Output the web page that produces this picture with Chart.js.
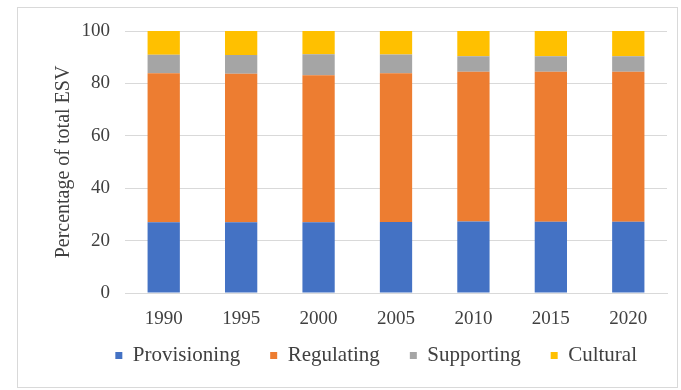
<!DOCTYPE html>
<html>
<head>
<meta charset="utf-8">
<script src="https://cdn.jsdelivr.net/npm/chart.js@4"></script>
<style>
  html, body { margin: 0; padding: 0; background: #ffffff; }
  #wrap { position: relative; width: 681px; height: 390px; }
</style>
</head>
<body>
<div id="wrap"><canvas id="c" width="681" height="390"></canvas></div>
<script>
// Years on the x axis
const years = ['1990', '1995', '2000', '2005', '2010', '2015', '2020'];

// Share of total ecosystem service value (%) by service type
const provisioning = [27.0, 27.0, 27.0, 27.1, 27.3, 27.2, 27.2];
const regulating   = [56.9, 56.7, 56.1, 56.8, 57.1, 57.2, 57.2];
const supporting   = [7.0, 7.1, 8.0, 7.1, 6.0, 6.0, 6.0];
const cultural     = [9.1, 9.2, 8.9, 9.0, 9.6, 9.6, 9.6];

const yTicks = [0, 20, 40, 60, 80, 100];

const seriesNames = ['Provisioning', 'Regulating', 'Supporting', 'Cultural'];
const seriesValues = [provisioning, regulating, supporting, cultural];
const seriesColors = ['#4472C4', '#ED7D31', '#A5A5A5', '#FFC000'];

const FONT = 'Liberation Serif';
const TEXT = '#404040';

Chart.defaults.font.family = FONT;
Chart.defaults.color = TEXT;

// Thin frame around the whole chart
const framePlugin = {
  id: 'frame',
  beforeDraw(chart) {
    const ctx = chart.ctx;
    ctx.save();
    ctx.fillStyle = '#ffffff';
    ctx.fillRect(0, 0, chart.width, chart.height);
    ctx.strokeStyle = '#d9d9d9';
    ctx.lineWidth = 1;
    ctx.strokeRect(17.5, 7.5, 660, 380);
    ctx.restore();
  }
};

new Chart(document.getElementById('c'), {
  type: 'bar',
  data: {
    labels: years,
    datasets: seriesNames.map((name, i) => ({
      label: name,
      data: seriesValues[i],
      backgroundColor: seriesColors[i],
      borderWidth: 0,
      barPercentage: 0.417,
      categoryPercentage: 1.0
    }))
  },
  options: {
    responsive: false,
    animation: false,
    devicePixelRatio: 1,
    layout: { padding: { left: 50, right: 14, top: 31, bottom: 14 } },
    plugins: {
      tooltip: { enabled: false },
      legend: {
        position: 'bottom',
        align: 'end',
        labels: {
          font: { family: FONT, size: 21 },
          color: TEXT,
          boxWidth: 7,
          boxHeight: 7,
          padding: 30
        }
      }
    },
    scales: {
      x: {
        stacked: true,
        afterFit(scale) { scale.height = 22; },
        grid: { display: false, drawTicks: false },
        border: { color: '#d9d9d9' },
        // labels hang below the axis line without being clipped to the short axis box
        ticks: { font: { family: FONT, size: 19 }, color: TEXT, mirror: true, padding: -37 }
      },
      y: {
        stacked: true,
        min: 0,
        max: 100,
        afterBuildTicks(scale) { scale.ticks = yTicks.map(v => ({ value: v })); },
        afterFit(scale) { scale.width = 75; },
        grid: { color: '#d9d9d9', drawTicks: false },
        border: { display: false },
        ticks: { font: { family: FONT, size: 19 }, color: TEXT, padding: 15 },
        title: {
          display: true,
          text: 'Percentage of total ESV',
          font: { family: FONT, size: 20 },
          color: TEXT,
          padding: { top: 2, bottom: 0 }
        }
      }
    }
  },
  plugins: [framePlugin]
});
</script>
</body>
</html>
